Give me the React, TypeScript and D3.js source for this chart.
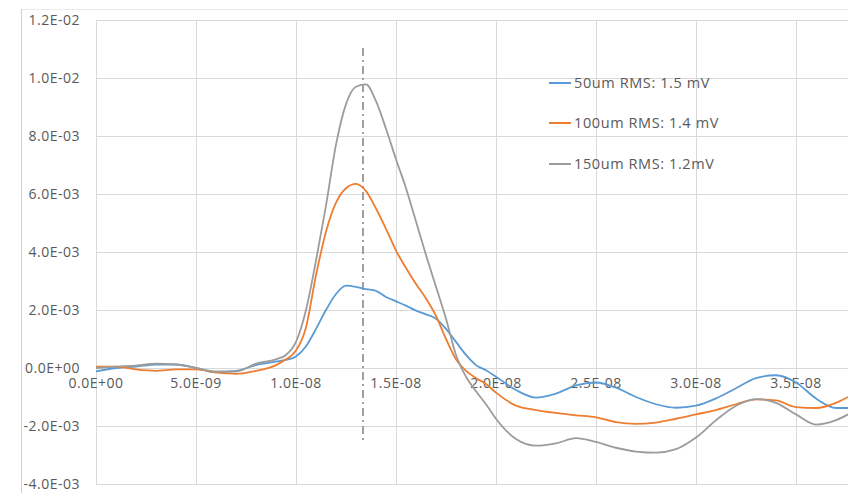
import React from "react";
import * as d3 from "d3";

// time in ns, values in mV
const timeNs = [0,1,2,3,4,5,6,7,8,9,9.5,10,10.5,11,11.5,12,12.5,13,13.5,14,14.5,15,15.5,16,16.5,17,17.5,18,18.5,19,19.5,20,21,22,23,24,25,26,27,28,29,30,31,32,33,34,35,36,37,37.6];

const series50 = [-0.12,0.0,0.05,0.12,0.12,0.0,-0.15,-0.1,0.1,0.22,0.28,0.4,0.75,1.35,2.0,2.55,2.84,2.8,2.72,2.66,2.45,2.3,2.15,1.98,1.85,1.7,1.35,0.9,0.45,0.1,-0.08,-0.3,-0.76,-1.02,-0.88,-0.6,-0.5,-0.68,-1.0,-1.25,-1.37,-1.3,-1.05,-0.7,-0.35,-0.25,-0.5,-1.05,-1.38,-1.38];

const series100 = [0.05,0.05,-0.05,-0.1,-0.05,-0.05,-0.15,-0.2,-0.1,0.1,0.3,0.6,1.4,3.2,4.7,5.7,6.2,6.35,6.1,5.5,4.8,4.05,3.45,2.9,2.4,1.8,1.0,0.3,-0.1,-0.35,-0.55,-0.85,-1.3,-1.45,-1.55,-1.63,-1.7,-1.87,-1.93,-1.88,-1.75,-1.6,-1.45,-1.25,-1.08,-1.12,-1.35,-1.38,-1.2,-1.0];

const series150 = [0.0,0.05,0.08,0.15,0.12,0.0,-0.12,-0.12,0.15,0.3,0.45,0.9,2.0,3.7,5.6,7.7,9.1,9.7,9.78,9.2,8.25,7.2,6.2,5.05,3.9,2.8,1.7,0.45,-0.3,-0.8,-1.25,-1.75,-2.45,-2.68,-2.6,-2.42,-2.55,-2.75,-2.88,-2.92,-2.8,-2.4,-1.8,-1.3,-1.07,-1.2,-1.6,-1.95,-1.8,-1.6];

const seriesNames = ["50um RMS: 1.5 mV", "100um RMS: 1.4 mV", "150um RMS: 1.2mV"];
const seriesColors = ["#5B9BD5", "#ED7D31", "#9C9C9C"];

const yTicks = [-4, -2, 0, 2, 4, 6, 8, 10, 12];
const yTickLabels = ["-4.0E-03", "-2.0E-03", "0.0E+00", "2.0E-03", "4.0E-03", "6.0E-03", "8.0E-03", "1.0E-02", "1.2E-02"];
const xTicks = [0, 5, 10, 15, 20, 25, 30, 35];
const xTickLabels = ["0.0E+00", "5.0E-09", "1.0E-08", "1.5E-08", "2.0E-08", "2.5E-08", "3.0E-08", "3.5E-08"];
const markerTime = 13.35;

const W = 848;
const H = 493;

export default function App() {
  const x = d3.scaleLinear().domain([0, 37.6]).range([96, 848]);
  const y = d3.scaleLinear().domain([-4, 12]).range([484, 20]);
  const all = [series50, series100, series150];
  const line = d3
    .line<number>()
    .x((_, i) => x(timeNs[i]))
    .y((d) => y(d))
    .curve(d3.curveMonotoneX);
  const font = "'Open Sans', Lato, sans-serif";
  return (
    <svg width={W} height={H} style={{ position: "absolute", left: 0, top: 0, background: "#fff" }} fontFamily={font}>
      <rect x={0} y={0} width={W} height={H} fill="#fff" />
      {/* outer border */}
      <line x1={21} x2={W} y1={9.5} y2={9.5} stroke="#EBEBEB" />
      <line x1={21.5} x2={21.5} y1={9} y2={H} stroke="#D0D0D0" />
      {/* gridlines */}
      {yTicks.map((t) => (
        <line key={"gy" + t} x1={96} x2={W} y1={Math.round(y(t)) + 0.5} y2={Math.round(y(t)) + 0.5} stroke="#D9D9D9" strokeWidth={1} />
      ))}
      {xTicks.map((t) => (
        <line key={"gx" + t} x1={Math.round(x(t)) + 0.5} x2={Math.round(x(t)) + 0.5} y1={20} y2={484} stroke="#D9D9D9" strokeWidth={1} />
      ))}
      {/* y labels */}
      {yTicks.map((t, i) => (
        <text key={"ly" + t} x={80} y={y(t)} dy="0.35em" textAnchor="end" fontSize={14} letterSpacing={0.5} fill="#595959">
          {yTickLabels[i]}
        </text>
      ))}
      {/* x labels */}
      {xTicks.map((t, i) => (
        <text key={"lx" + t} x={x(t)} y={y(0) + 15} dy="0.35em" textAnchor="middle" fontSize={14} letterSpacing={0.5} fill="#595959">
          {xTickLabels[i]}
        </text>
      ))}
      {/* marker line */}
      <line x1={x(markerTime)} x2={x(markerTime)} y1={48} y2={443} stroke="#A0A0A0" strokeWidth={2} strokeDasharray="8,4,2,4" />
      {/* series */}
      {all.map((s, i) => (
        <path key={"s" + i} d={line(s) || ""} fill="none" stroke={seriesColors[i]} strokeWidth={1.8} />
      ))}
      {/* legend */}
      {seriesNames.map((n, i) => {
        const ly = [83, 123, 164][i];
        return (
          <g key={"lg" + i}>
            <line x1={549} x2={571} y1={ly} y2={ly} stroke={seriesColors[i]} strokeWidth={2} />
            <text x={574} y={ly} dy="0.35em" fontSize={14.5} letterSpacing={0.6} fill="#595959">
              {n}
            </text>
          </g>
        );
      })}
    </svg>
  );
}
